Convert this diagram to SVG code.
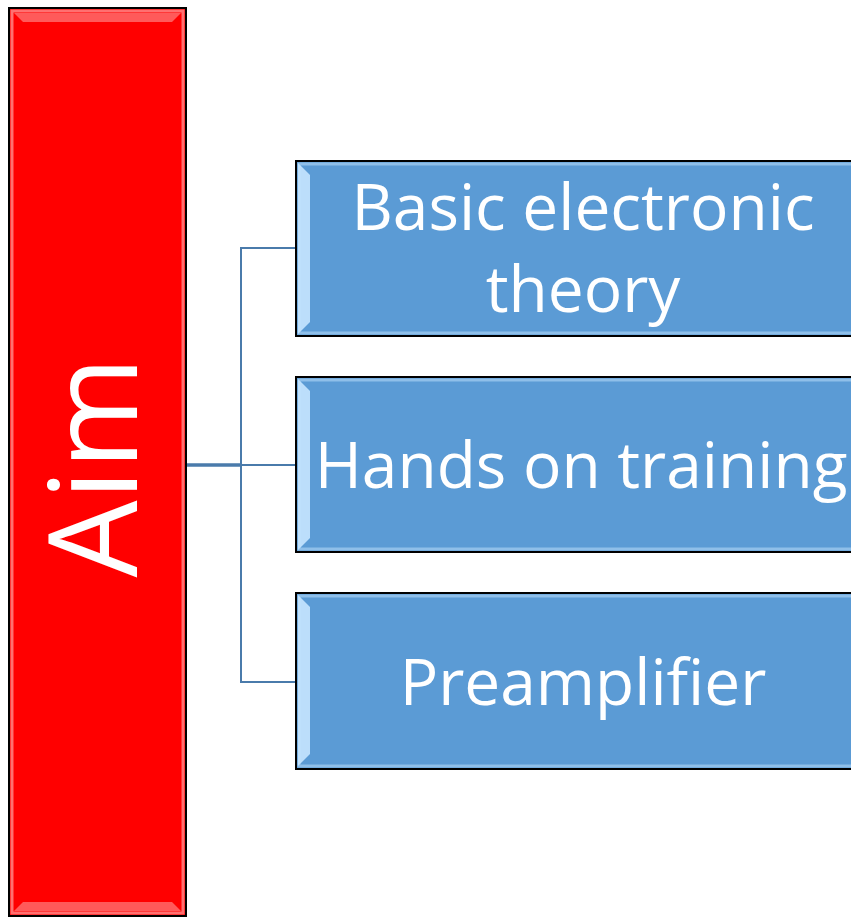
<svg xmlns="http://www.w3.org/2000/svg" width="851" height="919" viewBox="0 0 851 919">
<style>
.box{fill:#5b9bd5;stroke:#000;stroke-width:2}
.bev{fill:none;stroke:#9cc8ee;stroke-width:3;opacity:0.8}
.hl{fill:#c6e6ff;opacity:0.9}
.lbl{fill:#fff;font-family:"Open Sans","Noto Sans",sans-serif;font-size:64px;text-anchor:middle}
.conn{fill:none;stroke:#4a7bab;stroke-width:2}
</style>
<defs>
<linearGradient id="lg" x1="0" y1="0" x2="1" y2="0">
<stop offset="0" stop-color="#e8f6ff"/>
<stop offset="1" stop-color="#5b9bd5"/>
</linearGradient>
</defs>
<rect width="851" height="919" fill="#fff"/>
<g id="aim">
<rect x="9" y="8" width="177" height="908" fill="#ff0000" stroke="#000" stroke-width="2"/>
<rect x="12" y="11" width="171" height="902" fill="none" stroke="#ff7070" stroke-width="3"/>
<polygon points="14,13 181,13 172,22 23,22" fill="#ff5a5a"/>
<polygon points="14,911 181,911 172,902 23,902" fill="#ff5a5a"/>
<text transform="translate(137,467) rotate(-90)" fill="#fff" font-family="'Open Sans','Noto Sans',sans-serif" font-size="122" text-anchor="middle">Aim</text>
</g>
<g id="connectors">
<path class="conn" d="M296,248 H241 V682 H296"/>
<path class="conn" d="M241,465 H296"/>
<path d="M187,465 H241" stroke="#4a7bab" stroke-width="3.5" fill="none"/>
</g>
<g id="n1">
<rect class="box" x="296" y="161" width="570" height="175"/>
<rect class="bev" x="299" y="164" width="570" height="169"/>
<polygon class="hl" points="298,163 310,175 310,322 298,334" fill="url(#lg)"/>
<text class="lbl" x="583" y="230">Basic electronic</text>
<text class="lbl" x="583" y="312">theory</text>
</g>
<g id="n2">
<rect class="box" x="296" y="377" width="570" height="175"/>
<rect class="bev" x="299" y="380" width="570" height="169"/>
<polygon class="hl" points="298,379 310,391 310,538 298,550" fill="url(#lg)"/>
<text class="lbl" x="581" y="488">Hands on training</text>
</g>
<g id="n3">
<rect class="box" x="296" y="593" width="570" height="176"/>
<rect class="bev" x="299" y="596" width="570" height="170"/>
<polygon class="hl" points="298,595 310,607 310,754 298,766" fill="url(#lg)"/>
<text class="lbl" x="583" y="705">Preamplifier</text>
</g>
</svg>
